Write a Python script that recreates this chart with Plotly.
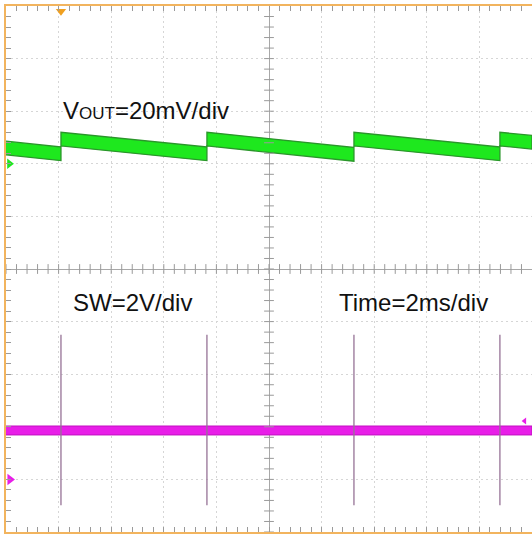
import numpy as np
import plotly.graph_objects as go

# ---- data (time in ms relative to screen centre, 2 ms/div; amplitude in divisions) ----
step_times_ms = [-7.91, -2.36, 3.23, 8.78]            # SW pulses / VOUT steps
vout_t = [-10.0, -7.91, -7.91, -2.36, -2.36, 3.23, 3.23, 8.78, 8.78, 10.0]
vout_div = [2.30, 2.19, 2.47, 2.19, 2.47, 2.18, 2.47, 2.19, 2.47, 2.41]
vout_noise_div = 0.13
sw_t = [-10.0, 10.0]
sw_div = [-3.07, -3.07]
sw_noise_div = 0.085
sw_spike_top_div = -1.25
sw_spike_bottom_div = -4.49
ch1_ground_div = 2.0
ch2_ground_div = -4.0
trig_level_div = -2.89
trig_time_ms = -7.91
labels = ['V<span style="font-size:17px">OUT</span>=20mV/div', "SW=2V/div", "Time=2ms/div"]

ORANGE = "#f2b45e"
GRID = "#d6d6d6"
TICK = "#9a9a9a"

fig = go.Figure()

# VOUT noisy band as polygon
vx = vout_t + vout_t[::-1]
vy = [v + vout_noise_div for v in vout_div] + [v - vout_noise_div for v in vout_div][::-1]
fig.add_trace(go.Scatter(x=vx, y=vy, fill="toself", fillcolor="#1ee81e",
                         line=dict(color="#2a962a", width=1.3), mode="lines",
                         hoverinfo="skip", showlegend=False))

# SW band
sx = sw_t + sw_t[::-1]
sy = [v + sw_noise_div for v in sw_div] + [v - sw_noise_div for v in sw_div][::-1]
fig.add_trace(go.Scatter(x=sx, y=sy, fill="toself", fillcolor="#e81ee8",
                         line=dict(color="#c010c0", width=1), mode="lines",
                         hoverinfo="skip", showlegend=False))

# SW spikes
spx, spy = [], []
for t in step_times_ms:
    spx += [t, t, None]
    spy += [sw_spike_top_div, sw_spike_bottom_div, None]
fig.add_trace(go.Scatter(x=spx, y=spy, mode="lines",
                         line=dict(color="#967296", width=1.3),
                         hoverinfo="skip", showlegend=False))

# centre-cross tick marks (1/5 division)
xt = np.arange(-10, 10.001, 0.4)
yt = np.arange(-5, 5.001, 0.2)
fig.add_trace(go.Scatter(x=xt, y=np.zeros_like(xt), mode="markers",
                         marker=dict(symbol="line-ns-open", size=7, color=TICK,
                                     line=dict(color=TICK, width=1)),
                         hoverinfo="skip", showlegend=False))
fig.add_trace(go.Scatter(x=np.zeros_like(yt), y=yt, mode="markers",
                         marker=dict(symbol="line-ew-open", size=7, color=TICK,
                                     line=dict(color=TICK, width=1)),
                         hoverinfo="skip", showlegend=False))

# channel / trigger markers
fig.add_trace(go.Scatter(x=[-9.87], y=[ch1_ground_div], mode="markers",
                         marker=dict(symbol="triangle-right", size=9, color="#1ee81e"),
                         cliponaxis=False, hoverinfo="skip", showlegend=False))
fig.add_trace(go.Scatter(x=[-9.85], y=[ch2_ground_div], mode="markers",
                         marker=dict(symbol="triangle-right", size=10, color="#e81ee8"),
                         cliponaxis=False, hoverinfo="skip", showlegend=False))
fig.add_trace(go.Scatter(x=[9.72], y=[trig_level_div], mode="markers",
                         marker=dict(symbol="triangle-left", size=6, color="#e81ee8"),
                         cliponaxis=False, hoverinfo="skip", showlegend=False))
fig.add_trace(go.Scatter(x=[trig_time_ms], y=[4.9], mode="markers",
                         marker=dict(symbol="triangle-down", size=9, color="#f0a020"),
                         cliponaxis=False, hoverinfo="skip", showlegend=False))

font = dict(family="Liberation Sans, Arial, sans-serif", size=24, color="#111111")
fig.add_annotation(x=-7.92, y=3.02, text=labels[0], showarrow=False,
                   xanchor="left", yanchor="middle", font=font)
fig.add_annotation(x=-7.52, y=-0.63, text=labels[1], showarrow=False,
                   xanchor="left", yanchor="middle", font=font)
fig.add_annotation(x=2.60, y=-0.63, text=labels[2], showarrow=False,
                   xanchor="left", yanchor="middle", font=font)

fig.update_xaxes(range=[-10, 10], tick0=0, dtick=2, showticklabels=False,
                 ticks="inside", ticklen=5, tickcolor=TICK,
                 minor=dict(dtick=0.4, ticks="inside", ticklen=5, tickcolor=TICK, showgrid=False),
                 showgrid=True, gridcolor=GRID, griddash="1.5px,3.5px", gridwidth=1,
                 zeroline=True, zerolinecolor="#a8a8a8", zerolinewidth=1,
                 showline=True, linecolor=ORANGE, linewidth=2, mirror="ticks",
                 fixedrange=True)
fig.update_yaxes(range=[-5, 5], tick0=0, dtick=1, showticklabels=False,
                 ticks="inside", ticklen=5, tickcolor=TICK,
                 minor=dict(dtick=0.2, ticks="inside", ticklen=5, tickcolor=TICK, showgrid=False),
                 showgrid=True, gridcolor=GRID, griddash="1.5px,3.5px", gridwidth=1,
                 zeroline=True, zerolinecolor="#a8a8a8", zerolinewidth=1,
                 showline=True, linecolor=ORANGE, linewidth=2, mirror=False,
                 fixedrange=True)

fig.update_layout(width=532, height=534,
                  margin=dict(l=6, r=0, t=6, b=2),
                  paper_bgcolor="white", plot_bgcolor="white",
                  showlegend=False)

fig.write_html("out.html", config={"displayModeBar": False},
               post_script="document.body.style.margin='0px';")
